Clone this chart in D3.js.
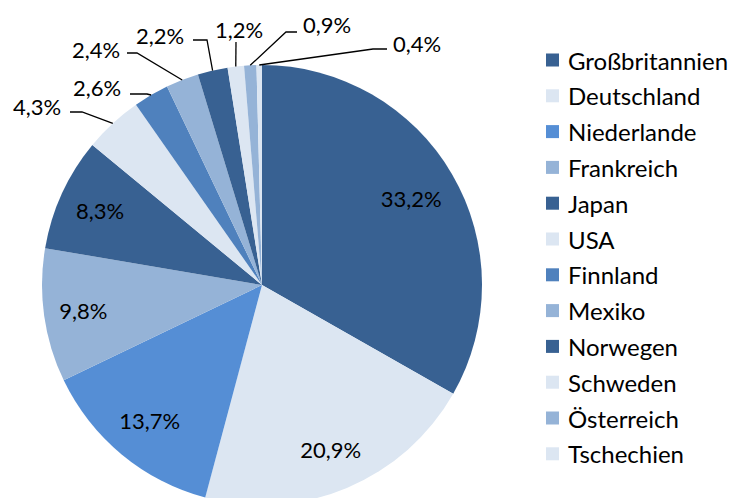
<!DOCTYPE html>
<html><head><meta charset="utf-8">
<script src="https://cdn.jsdelivr.net/npm/d3@7"></script>
<style>
html,body{margin:0;padding:0;background:#fff;}
svg{display:block;font-family:Lato,"Open Sans",sans-serif;}
</style></head>
<body>
<svg id="chart" width="736" height="498"></svg>
<script>
const categories = ["Großbritannien","Deutschland","Niederlande","Frankreich","Japan","USA","Finnland","Mexiko","Norwegen","Schweden","Österreich","Tschechien"];
const values = [33.2,20.9,13.7,9.8,8.3,4.3,2.6,2.4,2.2,1.2,0.9,0.4];
const labels = ["33,2%","20,9%","13,7%","9,8%","8,3%","4,3%","2,6%","2,4%","2,2%","1,2%","0,9%","0,4%"];
const colors = ["#386192","#dce6f2","#558ed5","#95b3d7","#386192","#dce6f2","#4f81bd","#95b3d7","#386192","#dce6f2","#95b3d7","#dce6f2"];

// layout config (not data)
const cx = 262, cy = 285, R = 220;
const inside = {0:0.785, 1:0.81, 2:0.80, 3:0.82, 4:0.81};
// outside label placement: [label center x, label center y, elbow x, elbow y]
const outside = {
  5:[37,106, 82,112],
  6:[97,87, 147,94],
  7:[96,49, 137,53],
  8:[160,35, 207,40],
  9:[239,29, 236,42],
  10:[327,24, 286,32],
  11:[417,43, 373,49]
};
const outsideLineStart = {5:70,6:130,7:127,8:193,9:236,10:297,11:387};

const svg = d3.select("#chart");
const color = d3.scaleOrdinal().domain(categories).range(colors);
const pie = d3.pie().sort(null).value(d => d.v);
const data = categories.map((c,i)=>({c, v:values[i], l:labels[i], i}));
const arcs = pie(data);
const arc = d3.arc().innerRadius(0).outerRadius(R);
const g = svg.append("g").attr("transform",`translate(${cx},${cy})`);

g.selectAll("path.slice").data(arcs).join("path")
  .attr("class","slice")
  .attr("d", arc)
  .attr("fill", d => color(d.data.c))
  .attr("stroke", "none");

// inside labels
arcs.forEach(a => {
  const i = a.data.i;
  if (inside[i] !== undefined) {
    const mid = (a.startAngle + a.endAngle)/2;
    const r = R*inside[i];
    g.append("text")
      .attr("x", Math.sin(mid)*r)
      .attr("y", -Math.cos(mid)*r)
      .attr("text-anchor","middle")
      .attr("dominant-baseline","central")
      .attr("font-size", 22)
      .attr("fill","#000")
      .text(a.data.l);
  }
});

// outside labels with leader lines
arcs.forEach(a => {
  const i = a.data.i;
  if (outside[i]) {
    const [lx, ly, ex, ey] = outside[i];
    const mid = (a.startAngle + a.endAngle)/2;
    const px = cx + Math.sin(mid)*R, py = cy - Math.cos(mid)*R;
    const sx = outsideLineStart[i];
    svg.append("polyline")
      .attr("points", `${sx},${ey} ${ex},${ey} ${px},${py}`)
      .attr("fill","none").attr("stroke","#000").attr("stroke-width",1.3);
    svg.append("text")
      .attr("x", lx).attr("y", ly)
      .attr("text-anchor","middle")
      .attr("dominant-baseline","central")
      .attr("font-size", 22)
      .attr("fill","#000")
      .text(a.data.l);
  }
});

// legend
const lg = svg.append("g").attr("transform","translate(546,60)");
const row = lg.selectAll("g").data(categories).join("g")
  .attr("transform",(d,i)=>`translate(0,${i*35.8})`);
row.append("rect").attr("x",0).attr("y",-6.5).attr("width",13).attr("height",13)
  .attr("fill", d => color(d));
row.append("text").attr("x",22).attr("y",0)
  .attr("dominant-baseline","central")
  .attr("font-size",24).attr("fill","#000")
  .text(d=>d);
</script>
</body></html>
